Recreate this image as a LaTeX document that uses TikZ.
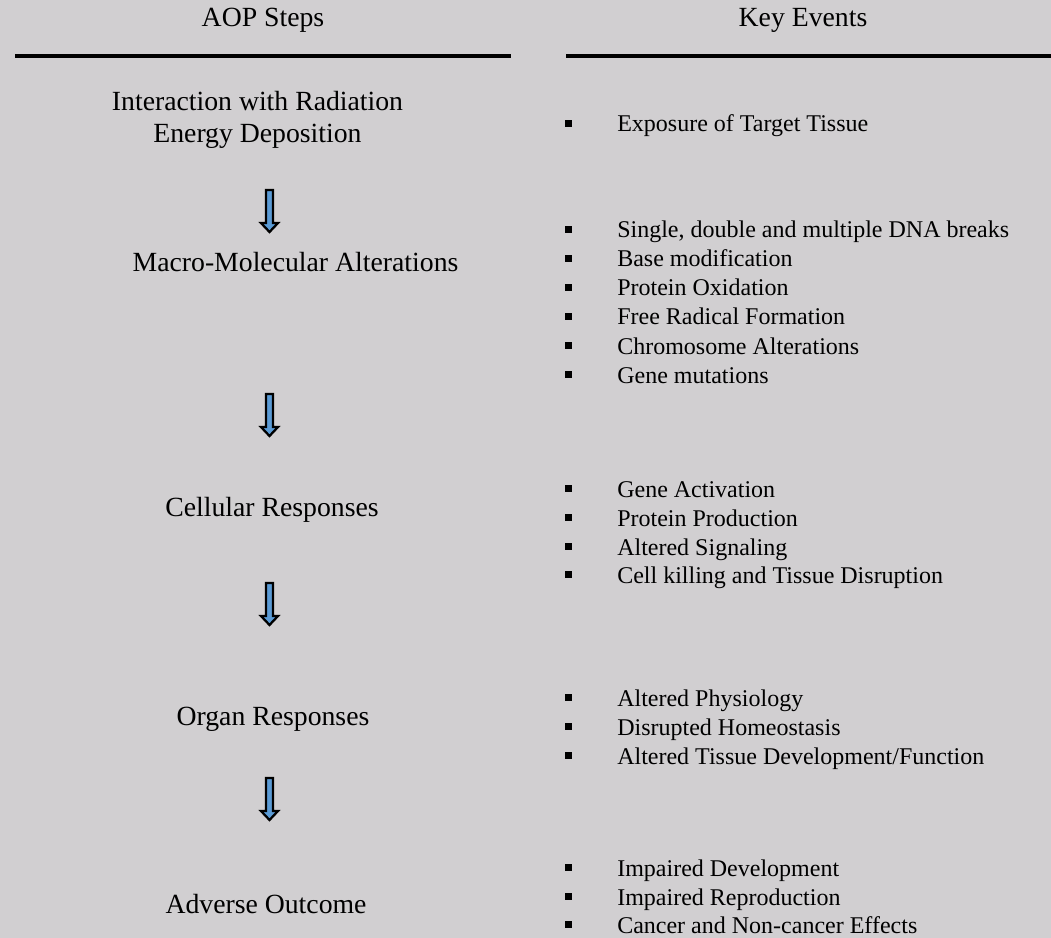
\documentclass[tikz,border=0pt]{standalone}
\usepackage{fontspec}
\setmainfont{Liberation Serif}
\definecolor{paneGray}{RGB}{209,207,209}
\definecolor{arrowBlue}{RGB}{91,155,213}
\newcommand{\keybullet}{\rule[4.1pt]{5.25pt}{5.25pt}\hspace{33.75pt}}

\begin{document}
\begin{tikzpicture}[x=0.75pt,y=0.75pt,yscale=-1,xscale=1,
  stepText/.style={anchor=base,inner sep=0pt,font=\fontsize{20.8}{24}\selectfont},
  keyText/.style={anchor=base west,inner sep=0pt,font=\fontsize{18}{21.6}\selectfont,align=left},
  headRule/.style={line width=3pt},
  stepArrow/.style={draw=black,fill=arrowBlue,line width=1.7pt,line join=miter}]
%set diagram size 1051 x 938
\fill [paneGray] (0,0) rectangle (1051,938);
\useasboundingbox (0,0) rectangle (1051,938);

% Headers
\draw (263,27) node [stepText] (headSteps) {AOP Steps};
\draw (803,27) node [stepText] (headEvents) {Key Events};
%Straight Lines
\draw [headRule] (15,56) -- (511,56) ;
%Straight Lines
\draw [headRule] (566,56) -- (1051,56) ;

% AOP steps
\draw (257.5,111) node [stepText] (stepInteraction) {Interaction with Radiation};
\draw (257.5,143) node [stepText] (stepEnergy) {Energy Deposition};
\draw (295.5,272) node [stepText] (stepMacro) {Macro-Molecular Alterations};
\draw (272,516) node [stepText] (stepCellular) {Cellular Responses};
\draw (273,725) node [stepText] (stepOrgan) {Organ Responses};
\draw (266,913) node [stepText] (stepAdverse) {Adverse Outcome};

%Shape: Down Arrow
\draw [stepArrow] (266,190) -- (273,190) -- (273,223) -- (278,223) -- (269.5,232) -- (261,223) -- (266,223) -- cycle ;
%Shape: Down Arrow
\draw [stepArrow] (266,394) -- (273,394) -- (273,427) -- (278,427) -- (269.5,436) -- (261,427) -- (266,427) -- cycle ;
%Shape: Down Arrow
\draw [stepArrow] (266,583) -- (273,583) -- (273,616) -- (278,616) -- (269.5,625) -- (261,616) -- (266,616) -- cycle ;
%Shape: Down Arrow
\draw [stepArrow] (266,778) -- (273,778) -- (273,811) -- (278,811) -- (269.5,820) -- (261,811) -- (266,811) -- cycle ;

% Key events
\draw (565,132) node [keyText] (keyExposure) {\keybullet Exposure of Target Tissue};

\draw (565,238) node [keyText] (keyBreaks) {\keybullet Single, double and multiple DNA breaks};
\draw (565,267) node [keyText] (keyBase) {\keybullet Base modification};
\draw (565,296) node [keyText] (keyOxidation) {\keybullet Protein Oxidation};
\draw (565,325) node [keyText] (keyRadical) {\keybullet Free Radical Formation};
\draw (565,354) node [keyText] (keyChromosome) {\keybullet Chromosome Alterations};
\draw (565,383) node [keyText] (keyMutations) {\keybullet Gene mutations};

\draw (565,497) node [keyText] (keyActivation) {\keybullet Gene Activation};
\draw (565,526) node [keyText] (keyProduction) {\keybullet Protein Production};
\draw (565,555) node [keyText] (keySignaling) {\keybullet Altered Signaling};
\draw (565,583) node [keyText] (keyKilling) {\keybullet Cell killing and Tissue Disruption};

\draw (565,706) node [keyText] (keyPhysiology) {\keybullet Altered Physiology};
\draw (565,735) node [keyText] (keyHomeostasis) {\keybullet Disrupted Homeostasis};
\draw (565,764) node [keyText] (keyTissue) {\keybullet Altered Tissue Development/Function};

\draw (565,876) node [keyText] (keyDevelopment) {\keybullet Impaired Development};
\draw (565,905) node [keyText] (keyReproduction) {\keybullet Impaired Reproduction};
\draw (565,933) node [keyText] (keyCancer) {\keybullet Cancer and Non-cancer Effects};

\end{tikzpicture}
\end{document}
